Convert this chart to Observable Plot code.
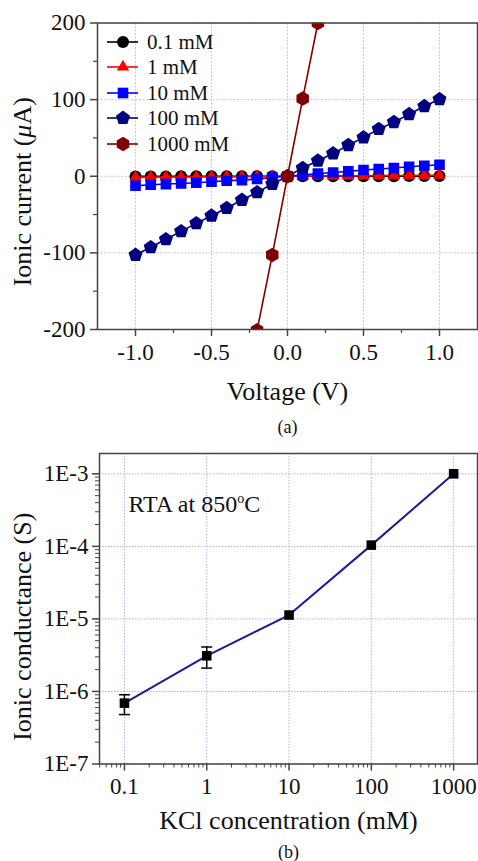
<!DOCTYPE html>
<html><head><meta charset="utf-8">
<script src="https://cdn.jsdelivr.net/npm/d3@7"></script>
<script src="https://cdn.jsdelivr.net/npm/@observablehq/plot@0.6"></script>
<style>
body{margin:0;background:#fff;}
#wrap{position:relative;width:478px;height:861px;font-family:"Liberation Serif","DejaVu Serif",serif;color:#111;overflow:hidden;}
#wrap svg{display:block;}
.leg{position:absolute;left:104px;height:26px;display:flex;align-items:center;font-size:21px;line-height:26px;white-space:nowrap;}
.leg svg{margin-right:5px;}
</style></head><body><div id="wrap"></div>
<script>
// ---------- Panel (a) data ----------
const voltage = [-1.0,-0.9,-0.8,-0.7,-0.6,-0.5,-0.4,-0.3,-0.2,-0.1,0.0,0.1,0.2,0.3,0.4,0.5,0.6,0.7,0.8,0.9,1.0];
const current_0_1mM = [-0.2,-0.2,-0.2,-0.1,-0.1,-0.1,-0.1,-0.1,0,0,0,0,0,0.1,0.1,0.1,0.1,0.1,0.2,0.2,0.2];
const current_1mM = [-1.2,-1.1,-1.0,-0.9,-0.8,-0.6,-0.5,-0.4,-0.3,-0.1,0,0.1,0.3,0.4,0.5,0.6,0.8,0.9,1.0,1.1,1.3];
const current_10mM = [-12.4,-11.1,-10.2,-9.4,-8.5,-7.2,-5.9,-5.0,-3.6,-1.6,0,1.6,3.6,4.9,6.3,8.1,9.4,10.7,12.4,13.7,15.0];
const current_100mM = [-102.7,-92.7,-82.3,-71.9,-61.5,-51.5,-41.5,-31.0,-21.0,-10.2,0,10.7,20.2,29.7,40.6,50.6,61.5,70.6,81.0,91.4,100.6];
const voltage_1000mM = [-0.2,-0.1,0.0,0.1,0.2];
const current_1000mM = [-201,-102.7,0,101.4,200];
const seriesNames = ["0.1 mM","1 mM","10 mM","100 mM","1000 mM"];
const xTicksA = [-1.0,-0.5,0.0,0.5,1.0];
const xTickLabelsA = ["-1.0","-0.5","0.0","0.5","1.0"];
const yTicksA = [-200,-100,0,100,200];
const yTickLabelsA = ["-200","-100","0","100","200"];

// ---------- Panel (b) data ----------
const concentration = [0.1, 1, 10, 100, 1000];
const conductance = [6.9e-7, 3.1e-6, 1.13e-5, 1.04e-4, 1.0e-3];
const errLow = [4.8e-7, 2.1e-6, null, null, null];
const errHigh = [9.0e-7, 4.1e-6, null, null, null];
const xTicksB = [0.1, 1, 10, 100, 1000];
const xTickLabelsB = ["0.1","1","10","100","1000"];
const yTicksB = [1e-7, 1e-6, 1e-5, 1e-4, 1e-3];
const yTickLabelsB = ["1E-7","1E-6","1E-5","1E-4","1E-3"];

// ---------- custom symbols ----------
function polygon(n, rot) {
  return {draw(ctx, size) {
    const R = Math.sqrt(size / Math.PI);
    for (let i = 0; i < n; i++) {
      const a = rot + i * 2 * Math.PI / n;
      const x = R * Math.cos(a), y = R * Math.sin(a);
      if (i) ctx.lineTo(x, y); else ctx.moveTo(x, y);
    }
    ctx.closePath();
  }};
}
const pentagon = polygon(5, -Math.PI / 2);
const hexagon = polygon(6, -Math.PI / 2);
const capSymbol = {draw(ctx, size) { const w = Math.sqrt(size / Math.PI); ctx.moveTo(-w, 0); ctx.lineTo(w, 0); }};

const seriesA = [
  {name: seriesNames[0], V: voltage, I: current_0_1mM, color: "#000000", symbol: "circle", d3sym: d3.symbolCircle, r: 6},
  {name: seriesNames[1], V: voltage, I: current_1mM, color: "#ff0000", symbol: "triangle", d3sym: d3.symbolTriangle, r: 4.6},
  {name: seriesNames[2], V: voltage, I: current_10mM, color: "#0000ff", symbol: "square", d3sym: d3.symbolSquare, r: 6},
  {name: seriesNames[3], V: voltage, I: current_100mM, color: "#000080", symbol: pentagon, d3sym: pentagon, r: 7.4},
  {name: seriesNames[4], V: voltage_1000mM, I: current_1000mM, color: "#800000", symbol: hexagon, d3sym: hexagon, r: 7.2}
];

const serif = "Liberation Serif, DejaVu Serif, serif";
const wrap = document.getElementById("wrap");

// ---------- Panel (a) ----------
const marksA = [
  Plot.gridX({ticks: xTicksA, stroke: "#c8c8c8", strokeOpacity: 1, strokeDasharray: "2,1.5", strokeWidth: 1}),
  Plot.gridY({ticks: yTicksA, stroke: "#c8c8c8", strokeOpacity: 1, strokeDasharray: "2,1.5", strokeWidth: 1})
];
for (const s of seriesA) {
  const rows = s.V.map((v, i) => ({V: v, I: s.I[i]}));
  marksA.push(Plot.line(rows, {x: "V", y: "I", stroke: s.color, strokeWidth: 1.6, clip: true}));
  marksA.push(Plot.dot(rows, {x: "V", y: "I", symbol: s.symbol, fill: s.color, stroke: "none", r: s.r, clip: true}));
}
marksA.push(
  Plot.frame({stroke: "#444", strokeWidth: 1.5}),
  Plot.axisX({ticks: xTicksA, tickFormat: (d) => xTickLabelsA[xTicksA.indexOf(d)], label: null, tickSize: 7, tickPadding: 7, stroke: "#444", strokeWidth: 1.5, fontSize: 23, fontFamily: serif}),
  Plot.axisX({ticks: [-0.75,-0.25,0.25,0.75], tickFormat: () => "", label: null, tickSize: 4, stroke: "#444", strokeWidth: 1.2}),
  Plot.axisY({ticks: yTicksA, tickFormat: (d) => yTickLabelsA[yTicksA.indexOf(d)], label: null, tickSize: 7, tickPadding: 5, stroke: "#444", strokeWidth: 1.5, fontSize: 23, fontFamily: serif}),
  Plot.axisY({ticks: [-150,-50,50,150], tickFormat: () => "", label: null, tickSize: 4, stroke: "#444", strokeWidth: 1.2}),
  Plot.text(["Voltage (V)"], {frameAnchor: "bottom", text: (d) => d, textAnchor: "middle", lineAnchor: "middle", dy: 62.5, fontSize: 26, fontFamily: serif}),
  Plot.text(["Ionic current (\u03bcA)"], {frameAnchor: "left", text: (d) => d, textAnchor: "middle", lineAnchor: "middle", rotate: -90, dx: -75, dy: 15.5, fontSize: 26, fontFamily: serif}),
  Plot.text(["(a)"], {frameAnchor: "bottom", text: (d) => d, textAnchor: "middle", lineAnchor: "middle", dy: 97.5, fontSize: 18, fontFamily: serif})
);

const plotA = Plot.plot({
  width: 478, height: 436,
  marginLeft: 97, marginRight: 1, marginTop: 22.5, marginBottom: 107,
  x: {domain: [-1.25, 1.25]},
  y: {domain: [-200, 200]},
  style: {fontFamily: serif, fontSize: "23px", color: "#111", background: "white", overflow: "visible"},
  marks: marksA
});
wrap.appendChild(plotA);
for (const t of plotA.querySelectorAll("text")) {
  if (t.textContent === "Ionic current (\u03bcA)") t.innerHTML = 'Ionic current (<tspan font-style="italic">\u03bc</tspan>A)';
}

// legend (overlay)
const legendTop = [41.7, 66.9, 92.6, 118.3, 144];
seriesA.forEach((s, i) => {
  const row = document.createElement("div");
  row.className = "leg";
  row.style.top = (legendTop[i] - 13) + "px";
  const size = Math.PI * s.r * s.r;
  const path = d3.symbol(s.d3sym, size)();
  row.innerHTML = `<svg width="38" height="26" viewBox="0 0 38 26"><line x1="3" x2="34" y1="13" y2="13" stroke="${s.color}" stroke-width="1.6"/><path transform="translate(19,13)" d="${path}" fill="${s.color}"/></svg><span>${s.name}</span>`;
  wrap.appendChild(row);
});

// ---------- Panel (b) ----------
const xDomB = [Math.pow(10, -1.303), Math.pow(10, 3.29)];
const yDomB = [1e-7, Math.pow(10, -2.72)];
const minorXB = [], minorYB = [];
for (let k = -2; k <= 3; k++) for (let m = 2; m <= 9; m++) { const v = m * Math.pow(10, k); if (v >= xDomB[0] && v <= xDomB[1]) minorXB.push(v); }
for (let k = -7; k <= -3; k++) for (let m = 2; m <= 9; m++) { const v = m * Math.pow(10, k); if (v >= yDomB[0] && v <= yDomB[1]) minorYB.push(v); }

const rowsB = concentration.map((c, i) => ({c, g: conductance[i], lo: errLow[i], hi: errHigh[i]}));
const errRows = rowsB.filter((d) => d.lo != null);

const plotB = Plot.plot({
  width: 478, height: 425,
  marginLeft: 99, marginRight: 1, marginTop: 17, marginBottom: 97.5,
  x: {type: "log", domain: xDomB},
  y: {type: "log", domain: yDomB},
  style: {fontFamily: serif, fontSize: "23px", color: "#111", background: "white", overflow: "visible"},
  marks: [
    Plot.gridX({ticks: xTicksB, stroke: "#b0b0ec", strokeOpacity: 1, strokeDasharray: "1.5,1.5", strokeWidth: 1}),
    Plot.gridY({ticks: yTicksB, stroke: "#b0b0ec", strokeOpacity: 1, strokeDasharray: "1.5,1.5", strokeWidth: 1}),
    Plot.line(rowsB, {x: "c", y: "g", stroke: "#1a1a9e", strokeWidth: 2}),
    Plot.ruleX(errRows, {x: "c", y1: "lo", y2: "hi", stroke: "#000", strokeWidth: 1.5}),
    Plot.dot(errRows, {x: "c", y: "lo", symbol: capSymbol, r: 5.5, fill: "none", stroke: "#000", strokeWidth: 1.5}),
    Plot.dot(errRows, {x: "c", y: "hi", symbol: capSymbol, r: 5.5, fill: "none", stroke: "#000", strokeWidth: 1.5}),
    Plot.dot(rowsB, {x: "c", y: "g", symbol: "square", r: 5.4, fill: "#000", stroke: "none"}),
    Plot.frame({stroke: "#444", strokeWidth: 1.5}),
    Plot.axisX({ticks: xTicksB, tickFormat: (d) => xTickLabelsB[xTicksB.indexOf(d)], label: null, tickSize: 7, tickPadding: 7, stroke: "#444", strokeWidth: 1.5, fontSize: 23, fontFamily: serif}),
    Plot.axisX({ticks: minorXB, tickFormat: () => "", label: null, tickSize: 4, stroke: "#444", strokeWidth: 1}),
    Plot.axisY({ticks: yTicksB, tickFormat: (d) => yTickLabelsB[yTicksB.indexOf(d)], label: null, tickSize: 7, tickPadding: 4, stroke: "#444", strokeWidth: 1.5, fontSize: 23, fontFamily: serif}),
    Plot.axisY({ticks: minorYB, tickFormat: () => "", label: null, tickSize: 4, stroke: "#444", strokeWidth: 1}),
    Plot.text(["RTA at 850\u00b0C"], {frameAnchor: "top-left", text: (d) => d, textAnchor: "start", lineAnchor: "middle", dx: 29, dy: 50.5, fontSize: 24, fontFamily: serif}),
    Plot.text(["KCl concentration (mM)"], {frameAnchor: "bottom", text: (d) => d, textAnchor: "middle", lineAnchor: "middle", dy: 57, fontSize: 26, fontFamily: serif}),
    Plot.text(["Ionic conductance (S)"], {frameAnchor: "left", text: (d) => d, textAnchor: "middle", lineAnchor: "middle", rotate: -90, dx: -77, dy: 18, fontSize: 26, fontFamily: serif}),
    Plot.text(["(b)"], {frameAnchor: "bottom", text: (d) => d, textAnchor: "middle", lineAnchor: "middle", dy: 88.2, fontSize: 18, fontFamily: serif})
  ]
});
wrap.appendChild(plotB);
for (const t of plotB.querySelectorAll("text")) {
  if (t.textContent === "RTA at 850\u00b0C") t.innerHTML = 'RTA at 850<tspan dy="-9" font-size="14">o</tspan><tspan dy="9">C</tspan>';
}
</script>
</body></html>
